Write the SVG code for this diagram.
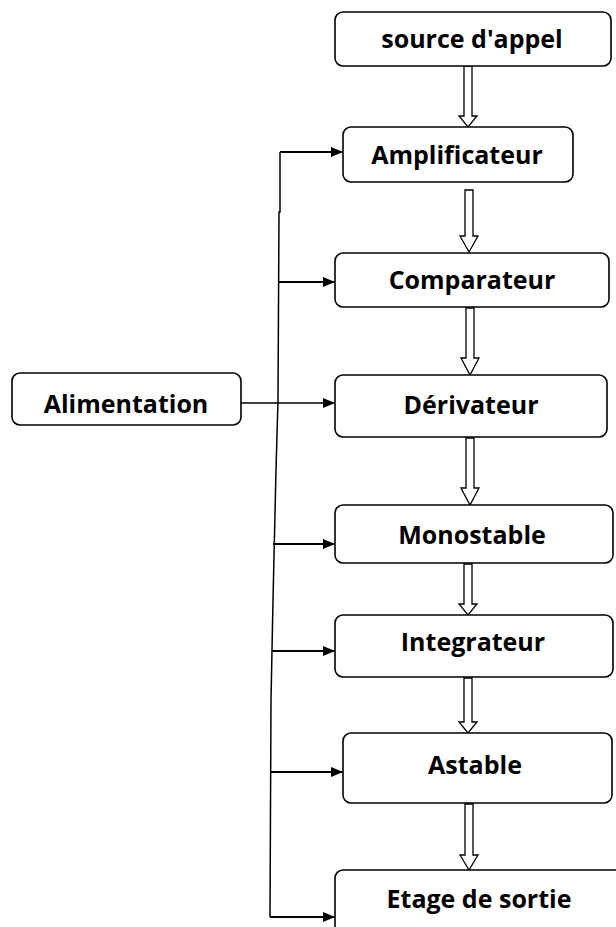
<svg xmlns="http://www.w3.org/2000/svg" width="616" height="927" viewBox="0 0 616 927">
<defs>
<style>
.box{fill:#fff;stroke:#000;stroke-width:1.6}
.t{font-family:"Open Sans","Liberation Sans",sans-serif;font-weight:bold;font-size:25px;fill:#000;text-anchor:middle}
.ln{fill:none;stroke:#000;stroke-width:1.5}
.lnb{fill:none;stroke:#000;stroke-width:2.2}
.ha{fill:#fff;stroke:#000;stroke-width:1.3;stroke-linejoin:miter}
</style>
<marker id="ah" markerWidth="12" markerHeight="10" refX="11" refY="5" orient="auto" markerUnits="userSpaceOnUse">
<path d="M0,0 L12,5 L0,10 z" fill="#000"/>
</marker>
</defs>
<rect width="616" height="927" fill="#fff"/>
<g id="connectors">
<polyline class="ln" points="280,152 280,212 279,212 278,400 276,470 273,600 271,700 270,917"/>
<line class="lnb" x1="280" y1="152" x2="342" y2="152" marker-end="url(#ah)"/>
<line class="lnb" x1="278" y1="282" x2="334" y2="282" marker-end="url(#ah)"/>
<line class="ln" x1="241" y1="403" x2="334" y2="403" marker-end="url(#ah)"/>
<line class="lnb" x1="273" y1="544" x2="334" y2="544" marker-end="url(#ah)"/>
<line class="lnb" x1="272" y1="651" x2="334" y2="651" marker-end="url(#ah)"/>
<line class="lnb" x1="270" y1="772" x2="342" y2="772" marker-end="url(#ah)"/>
<line class="lnb" x1="270" y1="917" x2="334" y2="917" marker-end="url(#ah)"/>
<path class="ha" d="M464,66 L472,66 L472,116 L477,116 L468,127 L459,116 L464,116 Z"/>
<path class="ha" d="M465,190 L473,190 L473,236 L478,236 L469,252 L460,236 L465,236 Z"/>
<path class="ha" d="M466,308 L474,308 L474,358 L479,358 L470,375 L461,358 L466,358 Z"/>
<path class="ha" d="M466,438 L474,438 L474,488 L479,488 L470,505 L461,488 L466,488 Z"/>
<path class="ha" d="M464,564 L472,564 L472,604 L477,604 L468,615 L459,604 L464,604 Z"/>
<path class="ha" d="M464,678 L472,678 L472,722 L477,722 L468,733 L459,722 L464,722 Z"/>
<path class="ha" d="M465,804 L473,804 L473,855 L478,855 L469,870 L460,855 L465,855 Z"/>
</g>
<g id="source"><rect class="box" x="335" y="12" width="276" height="54" rx="8"/><text class="t" x="472" y="48">source d'appel</text></g>
<g id="amplificateur"><rect class="box" x="343" y="127" width="230" height="55" rx="8"/><text class="t" x="457" y="164">Amplificateur</text></g>
<g id="comparateur"><rect class="box" x="335" y="253" width="274" height="54" rx="8"/><text class="t" x="472" y="289">Comparateur</text></g>
<g id="alimentation"><rect class="box" x="12" y="373" width="229" height="52" rx="8"/><text class="t" x="126" y="413">Alimentation</text></g>
<g id="derivateur"><rect class="box" x="335" y="375" width="272" height="62" rx="8"/><text class="t" x="471" y="414">Dérivateur</text></g>
<g id="monostable"><rect class="box" x="335" y="505" width="278" height="58" rx="8"/><text class="t" x="472" y="544">Monostable</text></g>
<g id="integrateur"><rect class="box" x="335" y="615" width="278" height="62" rx="8"/><text class="t" x="473" y="651">Integrateur</text></g>
<g id="astable"><rect class="box" x="343" y="733" width="269" height="70" rx="8"/><text class="t" x="475" y="774">Astable</text></g>
<g id="etage"><rect class="box" x="335" y="870" width="300" height="80" rx="8"/><text class="t" x="479" y="908">Etage de sortie</text></g>
</svg>
